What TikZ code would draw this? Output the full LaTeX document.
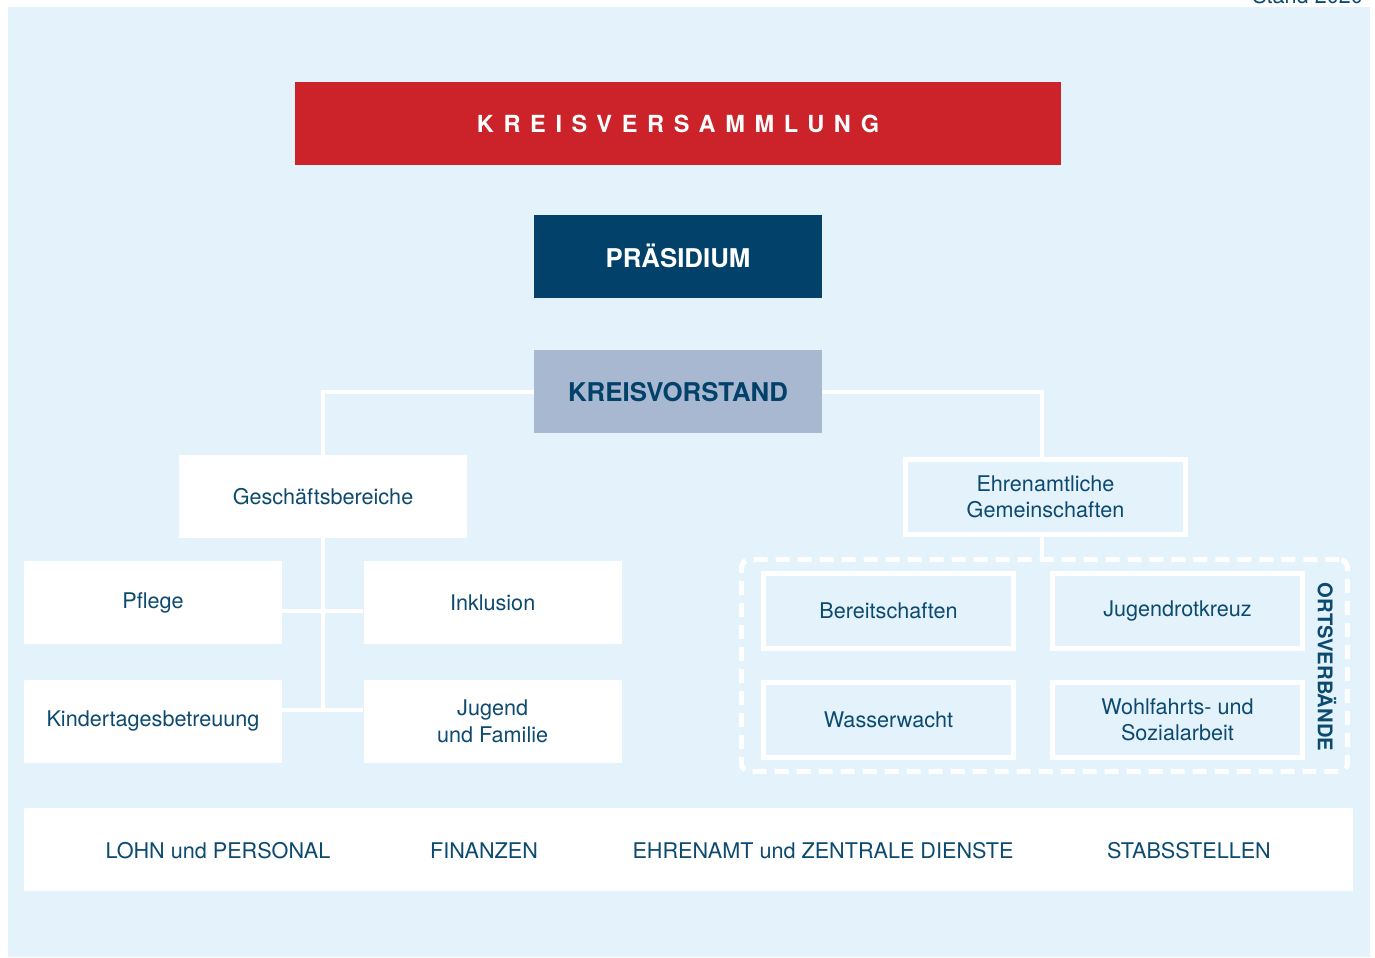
\documentclass[tikz,border=0pt]{standalone}
\usepackage{fontspec}
\setmainfont{TeX Gyre Heros}
\newfontfamily\spacedfont[LetterSpace=41]{TeX Gyre Heros}
\usetikzlibrary{positioning}
\definecolor{drkred}{HTML}{CC2229}
\definecolor{drkblue}{HTML}{01416A}
\definecolor{greyblue}{HTML}{A9B8D1}
\definecolor{sky}{HTML}{E4F2FC}
\definecolor{ink}{HTML}{0D4A70}
\newcommand{\labfont}{\fontsize{12.3}{15}\selectfont}
\newcommand{\headfont}{\fontsize{14.7}{17}\selectfont\bfseries}
\tikzset{
    % top boxes
    redbox/.style={
	rectangle,
	fill=drkred,
	minimum width=15.32cm,
	minimum height=1.66cm,
	text=white,
	font=\spacedfont\fontsize{13.4}{16}\selectfont\bfseries
    },
    darkbox/.style={
	rectangle,
	fill=drkblue,
	minimum width=5.76cm,
	minimum height=1.66cm,
	text=white,
	font=\headfont
    },
    greybox/.style={
	rectangle,
	fill=greyblue,
	minimum width=5.76cm,
	minimum height=1.66cm,
	text=drkblue,
	font=\headfont
    },
    % white boxes
    unitbox/.style={
	rectangle,
	fill=white,
	minimum width=5.16cm,
	minimum height=1.66cm,
	align=center
    },
    % framed boxes
    framebox/.style={
	rectangle,
	draw=white,
	line width=0.1cm,
	fill=sky,
	minimum width=5.0cm,
	minimum height=1.5cm,
	align=center
    },
    ortsbox/.style={
	rectangle,
	draw=white,
	line width=0.1cm,
	dash pattern=on 0.28cm off 0.16cm,
	rounded corners=0.16cm,
	minimum width=12.12cm,
	minimum height=4.24cm
    },
    % connectors
    conn/.style={
	draw=white,
	line width=0.08cm
    },
}
\begin{document}
\begin{tikzpicture}[x=0.02cm,y=-0.02cm,node distance=1cm,font=\labfont,text=ink]
\useasboundingbox (0,0) rectangle (1375,957);
\fill[sky] (8,7) rectangle (1370,957);
\node[anchor=base east] (stand) at (1369,3) {Stand 2020};
%top
\node[redbox] (versammlung) at (678,123.5) {KREISVERSAMMLUNG};
\node[darkbox, below=0.98cm of versammlung] (praesidium) {PRÄSIDIUM};
\node[greybox, below=1.04cm of praesidium] (vorstand) {KREISVORSTAND};
%left
\node[unitbox, minimum width=5.76cm] (gesch) at (323,496.5) {Geschäftsbereiche};
\node[unitbox] (pflege) at (153,602.5) {Pflege};
\node[unitbox, right=1.62cm of pflege] (inklusion) {Inklusion};
\node[unitbox, below=0.7cm of pflege] (kita) {Kindertagesbetreuung};
\node[unitbox, right=1.62cm of kita] (jugend) {Jugend\\und Familie};
\coordinate (g1) at (323,611);
\coordinate (g2) at (323,710);
%right
\node[framebox, minimum width=5.6cm] (ehrenamt) at (1045.5,497) {Ehrenamtliche\\Gemeinschaften};
\node[ortsbox] (orts) at (1044.5,665.5) {};
\node[framebox] (bereit) at (888.5,611) {Bereitschaften};
\node[framebox, right=0.68cm of bereit] (jrk) {Jugendrotkreuz};
\node[framebox, below=0.58cm of bereit] (wasser) {Wasserwacht};
\node[framebox, right=0.68cm of wasser] (wohlfahrt) {Wohlfahrts- und\\Sozialarbeit};
\node[rotate=-90, font=\fontsize{11.5}{14}\selectfont\bfseries] (ortsverb) at (1327,667) {ORTSVERBÄNDE};
%bottom
\node[unitbox, minimum width=26.58cm] (dienste) at (688.5,849.5) {};
\node (lohn) at (218,851) {LOHN und PERSONAL};
\node (finanzen) at (484,851) {FINANZEN};
\node (zentral) at (823,851) {EHRENAMT und ZENTRALE DIENSTE};
\node (stabs) at (1189,851) {STABSSTELLEN};
%lines
\draw[conn] (vorstand.west) -| (gesch.north);
\draw[conn] (vorstand.east) -| ([xshift=-0.07cm]ehrenamt.north);
\draw[conn] ([xshift=-0.07cm]ehrenamt.south) -- ([xshift=-0.07cm]ehrenamt.south |- orts.north);
\draw[conn] (gesch.south) -- (g2);
\draw[conn] (pflege.east |- g1) -- (inklusion.west |- g1);
\draw[conn] (kita.east |- g2) -- (jugend.west |- g2);
\end{tikzpicture}
\end{document}
